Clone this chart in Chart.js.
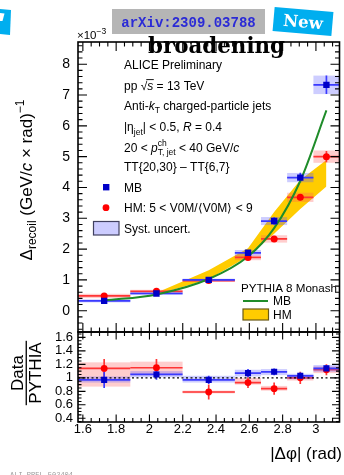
<!DOCTYPE html>
<html><head><meta charset="utf-8">
<script src="https://cdn.jsdelivr.net/npm/chart.js@4.4.1/dist/chart.umd.min.js"></script>
<style>html,body{margin:0;padding:0;background:#fff;overflow:hidden}canvas{display:block}</style>
</head><body>
<canvas id="c" width="344" height="475" style="width:344px;height:475px"></canvas>
<script>
// ---------- data ----------
const binEdges   = [1.571, 1.885, 2.199, 2.513, 2.670, 2.827, 2.985, 3.142];
const binCenters = [1.728, 2.042, 2.356, 2.592, 2.749, 2.906, 3.063];

const mbValues = [0.32, 0.56, 1.00, 1.88, 2.91, 4.32, 7.33];
const mbStat   = [0.05, 0.05, 0.05, 0.08, 0.12, 0.16, 0.30];
const mbSyst   = [0.05, 0.05, 0.04, 0.09, 0.13, 0.15, 0.30];

const hmValues = [0.48, 0.63, 0.98, 1.73, 2.33, 3.68, 5.00];
const hmStat   = [0.05, 0.05, 0.06, 0.07, 0.08, 0.10, 0.18];
const hmSyst   = [0.07, 0.05, 0.04, 0.09, 0.12, 0.15, 0.20];

const pythiaMb      = [0.33, 0.53, 1.03, 1.76, 2.68, 4.21, 6.50];
const pythiaHmX     = [2.042, 2.356, 2.592, 2.749, 2.906, 3.063];
const pythiaHmLower = [0.53, 1.02, 1.76, 2.50, 3.30, 4.03];
const pythiaHmUpper = [0.58, 1.31, 2.03, 3.20, 4.24, 4.89];

const ratioMb       = [0.97, 1.05, 0.97, 1.07, 1.09, 1.03, 1.14];
const ratioMbStat   = [0.12, 0.08, 0.06, 0.06, 0.05, 0.05, 0.05];
const ratioMbBoxLo  = [0.93, 1.01, 0.93, 1.02, 1.04, 0.98, 1.09];
const ratioMbBoxHi  = [1.02, 1.10, 1.03, 1.12, 1.13, 1.06, 1.19];
const ratioHm       = [1.14, 1.15, 0.79, 0.93, 0.84, 1.00, 1.12];
const ratioHmStat   = [0.14, 0.13, 0.11, 0.08, 0.09, 0.09, 0.08];
const ratioHmBoxLo  = [0.87, 1.04, 0.77, 0.90, 0.81, 0.96, 1.07];
const ratioHmBoxHi  = [1.23, 1.24, 0.81, 1.00, 0.88, 1.04, 1.17];

const xTicks      = [1.6, 1.8, 2.0, 2.2, 2.4, 2.6, 2.8, 3.0];
const yMainTicks  = [0, 1, 2, 3, 4, 5, 6, 7, 8];
const yRatioTicks = [0.4, 0.6, 0.8, 1.0, 1.2, 1.4, 1.6];

// ---------- styling ----------
const FONT = '"Liberation Sans", Arial, Helvetica, sans-serif';
const SERIF = '"DejaVu Serif", "Liberation Serif", serif';
const MONO = '"Liberation Mono", "DejaVu Sans Mono", monospace';
Chart.defaults.font.family = FONT;
const MB_MARK = '#0000c8', MB_LINE = '#3a3aff', MB_BOX = 'rgba(90,90,255,0.30)';
const HM_MARK = '#ff0000', HM_LINE = '#ff3535', HM_BOX = 'rgba(255,90,90,0.30)';
const GREEN = '#1f8c2a', YELLOW = '#ffcc00';

const fmt = v => String(parseFloat(Number(v).toFixed(2)));
const pts = (xs, ys) => xs.map((x, i) => ({x, y: ys[i]}));

function setFont(ctx, size, o) {
  o = o || {};
  ctx.font = (o.it ? 'italic ' : '') + (o.b ? 'bold ' : '') + size + 'px ' + (o.fam || FONT);
}
function rich(ctx, x, y, segs, size, measureOnly) {
  let cx = x;
  for (const s of segs) {
    const sz = s.size || size;
    setFont(ctx, sz, s);
    const w = ctx.measureText(s.t).width;
    if (!measureOnly) {
      ctx.fillText(s.t, cx, y + (s.dy || 0));
      if (s.over) ctx.fillRect(cx - 1, y + (s.dy || 0) - sz * 0.86, w + 1.5, 0.9);
    }
    if (s.adv !== false) cx += w;
  }
  return cx - x;
}

// ---------- error bars / boxes ----------
function drawSeriesErrors(ctx, xs, ys, vals, stat, lo, hi, lineCol, boxCol) {
  const area = ctx.canvas; // unused
  for (let i = 0; i < vals.length; i++) {
    const x0 = xs.getPixelForValue(binEdges[i]);
    const x1 = xs.getPixelForValue(binEdges[i + 1]);
    const yb0 = ys.getPixelForValue(hi[i]);
    const yb1 = ys.getPixelForValue(lo[i]);
    ctx.fillStyle = boxCol;
    ctx.fillRect(x0, yb0, x1 - x0, Math.max(1.5, yb1 - yb0));
  }
  ctx.strokeStyle = lineCol;
  ctx.lineWidth = 1.7;
  for (let i = 0; i < vals.length; i++) {
    const x0 = xs.getPixelForValue(binEdges[i]);
    const x1 = xs.getPixelForValue(binEdges[i + 1]);
    const xc = xs.getPixelForValue(binCenters[i]);
    const yv = ys.getPixelForValue(vals[i]);
    ctx.beginPath();
    ctx.moveTo(x0, yv); ctx.lineTo(x1, yv);
    ctx.moveTo(xc, ys.getPixelForValue(vals[i] + stat[i]));
    ctx.lineTo(xc, ys.getPixelForValue(vals[i] - stat[i]));
    ctx.stroke();
  }
}

const errorPlugin = {
  id: 'errors',
  beforeDatasetDraw(chart, args) {
    if (args.index !== 2) return;
    const ctx = chart.ctx, xs = chart.scales.x, y = chart.scales.y, yr = chart.scales.yr;
    ctx.save();
    // main panel
    ctx.beginPath();
    ctx.rect(xs.left, y.top, xs.right - xs.left + 3, y.bottom - y.top);
    ctx.clip();
    drawSeriesErrors(ctx, xs, y, hmValues, hmStat,
      hmValues.map((v, i) => v - hmSyst[i]), hmValues.map((v, i) => v + hmSyst[i]), HM_LINE, HM_BOX);
    drawSeriesErrors(ctx, xs, y, mbValues, mbStat,
      mbValues.map((v, i) => v - mbSyst[i]), mbValues.map((v, i) => v + mbSyst[i]), MB_LINE, MB_BOX);
    ctx.restore();
    // ratio panel
    ctx.save();
    ctx.beginPath();
    ctx.rect(xs.left, yr.top, xs.right - xs.left + 3, yr.bottom - yr.top);
    ctx.clip();
    drawSeriesErrors(ctx, xs, yr, ratioHm, ratioHmStat, ratioHmBoxLo, ratioHmBoxHi, HM_LINE, HM_BOX);
    drawSeriesErrors(ctx, xs, yr, ratioMb, ratioMbStat, ratioMbBoxLo, ratioMbBoxHi, MB_LINE, MB_BOX);
    // dotted unity line
    ctx.strokeStyle = '#000';
    ctx.lineWidth = 1.3;
    ctx.setLineDash([2, 2.5]);
    const y1 = yr.getPixelForValue(1);
    ctx.beginPath(); ctx.moveTo(xs.left, y1); ctx.lineTo(xs.right, y1); ctx.stroke();
    ctx.restore();
  }
};

// ---------- frames, ticks, annotations ----------
function tickSet(ctx, scale, horizontal, fixed, dir, majors, minorStep, minorFrom, minorTo, lenMaj, lenMin) {
  ctx.beginPath();
  const n0 = Math.round(minorFrom / minorStep), n1 = Math.round(minorTo / minorStep);
  for (let k = n0; k <= n1; k++) {
    const v = k * minorStep;
    const isMaj = majors.some(m => Math.abs(m - v) < 1e-6);
    const len = isMaj ? lenMaj : lenMin;
    const p = scale.getPixelForValue(v);
    if (horizontal) { ctx.moveTo(p, fixed); ctx.lineTo(p, fixed + dir * len); }
    else { ctx.moveTo(fixed, p); ctx.lineTo(fixed + dir * len, p); }
  }
  ctx.stroke();
}

const decorPlugin = {
  id: 'decor',
  afterDraw(chart) {
    const ctx = chart.ctx, xs = chart.scales.x, y = chart.scales.y, yr = chart.scales.yr;
    const L = xs.left, R = xs.right;
    ctx.save();
    ctx.strokeStyle = '#000';
    ctx.lineWidth = 1.1;
    // main panel ticks
    tickSet(ctx, y, false, L, 1, yMainTicks, 0.2, -0.6, 8.6, 9, 4.5);
    tickSet(ctx, y, false, R, -1, yMainTicks, 0.2, -0.6, 8.6, 9, 4.5);
    tickSet(ctx, xs, true, y.top, 1, xTicks, 0.05, 1.6, 3.1, 9, 4.5);
    tickSet(ctx, xs, true, y.bottom, -1, xTicks, 0.05, 1.6, 3.1, 9, 4.5);
    // ratio panel ticks
    tickSet(ctx, yr, false, L, 1, yRatioTicks, 0.05, 0.35, 1.65, 7.5, 3.5);
    tickSet(ctx, yr, false, R, -1, yRatioTicks, 0.05, 0.35, 1.65, 7.5, 3.5);
    tickSet(ctx, xs, true, yr.top, 1, xTicks, 0.05, 1.6, 3.1, 7.5, 4);
    tickSet(ctx, xs, true, yr.bottom, -1, xTicks, 0.05, 1.6, 3.1, 7.5, 4);
    // frames
    ctx.lineWidth = 1.6;
    ctx.strokeRect(L, y.top, R - L, y.bottom - y.top);
    ctx.strokeRect(L, yr.top, R - L, yr.bottom - yr.top);
    ctx.restore();

    ctx.save();
    ctx.fillStyle = '#000';
    ctx.textBaseline = 'alphabetic';
    ctx.textAlign = 'left';

    // top-left badge fragment
    ctx.fillStyle = '#00aeef';
    ctx.beginPath(); ctx.moveTo(0, 9); ctx.lineTo(11, 10); ctx.lineTo(10, 35); ctx.lineTo(0, 34); ctx.closePath(); ctx.fill();
    ctx.fillStyle = '#fff';
    ctx.beginPath(); ctx.moveTo(0, 13); ctx.lineTo(4.5, 13.5); ctx.lineTo(2.5, 21); ctx.lineTo(0, 21); ctx.closePath(); ctx.fill();

    // arXiv box
    ctx.fillStyle = '#b5b5b5';
    ctx.fillRect(112, 9, 153, 25);
    ctx.fillStyle = '#2b2bd6';
    setFont(ctx, 14, {b: true, fam: MONO});
    ctx.textAlign = 'center';
    ctx.fillText('arXiv:2309.03788', 188.5, 26.5);

    // New badge
    ctx.save();
    ctx.translate(303, 21.5);
    ctx.rotate(5 * Math.PI / 180);
    ctx.fillStyle = '#00aeef';
    ctx.fillRect(-29.5, -12, 59, 24);
    ctx.fillStyle = '#fff';
    setFont(ctx, 16.5, {b: true, fam: SERIF});
    ctx.fillText('New', 0, 6);
    ctx.restore();

    // x10^-3
    ctx.fillStyle = '#000';
    ctx.textAlign = 'left';
    rich(ctx, 77, 38.5, [{t: '\u00d710'}, {t: '\u22123', size: 8.5, dy: -5}], 11.5);

    // broadening (fit width)
    setFont(ctx, 21.5, {b: true, fam: SERIF});
    const bw = ctx.measureText('broadening').width;
    ctx.save();
    ctx.translate(216.5, 53);
    ctx.scale(137 / bw, 1);
    ctx.textAlign = 'center';
    ctx.fillText('broadening', 0, 0);
    ctx.restore();

    // legend texts
    ctx.textAlign = 'left';
    const LX = 124, FS = 12;
    rich(ctx, LX, 68.5, [{t: 'ALICE Preliminary'}], FS);
    rich(ctx, LX, 89.5, [{t: 'pp '}, {t: '\u221a'}, {t: 's', it: true, over: true}, {t: ' = 13 TeV'}], FS);
    rich(ctx, LX, 110.3, [{t: 'Anti-'}, {t: 'k', it: true}, {t: 'T', size: 8.5, dy: 3}, {t: ' charged-particle jets'}], FS);
    rich(ctx, LX, 131, [{t: '|\u03b7'}, {t: 'jet', size: 8.5, dy: 3.5}, {t: '| < 0.5, '}, {t: 'R', it: true}, {t: ' = 0.4'}], FS);
    rich(ctx, LX, 151.5, [{t: '20 < '}, {t: 'p', it: true}, {t: 'ch', size: 8.5, dy: -5.5, adv: false}, {t: 'T, jet', size: 8.5, dy: 3.5}, {t: ' < 40 GeV/'}, {t: 'c', it: true}], FS);
    rich(ctx, LX, 170.7, [{t: 'TT{20,30} \u2013 TT{6,7}'}], FS);
    rich(ctx, LX, 191.5, [{t: 'MB'}], FS);
    rich(ctx, LX, 212, [{t: 'HM: 5 < V0M/\u27e8V0M\u27e9 < 9'}], FS);
    rich(ctx, LX, 232.6, [{t: 'Syst. uncert.'}], FS);
    // legend markers
    ctx.fillStyle = MB_MARK;
    ctx.fillRect(103, 184, 6.4, 6.4);
    ctx.fillStyle = HM_MARK;
    ctx.beginPath(); ctx.arc(106, 207.7, 3.4, 0, Math.PI * 2); ctx.fill();
    ctx.fillStyle = '#ccccff';
    ctx.fillRect(93.5, 221.5, 25.5, 13.5);
    ctx.strokeStyle = '#404060'; ctx.lineWidth = 1.2;
    ctx.strokeRect(93.5, 221.5, 25.5, 13.5);

    // PYTHIA legend
    ctx.fillStyle = '#000';
    rich(ctx, 241, 292.3, [{t: 'PYTHIA 8 Monash'}], 11.6);
    ctx.strokeStyle = GREEN; ctx.lineWidth = 2;
    ctx.beginPath(); ctx.moveTo(243, 301); ctx.lineTo(268, 301); ctx.stroke();
    rich(ctx, 273, 305.3, [{t: 'MB'}], FS);
    ctx.fillStyle = YELLOW;
    ctx.fillRect(243, 309, 25.5, 11);
    ctx.strokeStyle = '#6b5a14'; ctx.lineWidth = 1.2;
    ctx.strokeRect(243, 309, 25.5, 11);
    ctx.fillStyle = '#000';
    rich(ctx, 273, 319.3, [{t: 'HM'}], FS);

    // main y title (rotated)
    const ySegs = [{t: '\u0394'}, {t: 'recoil', size: 12, dy: 4}, {t: ' (GeV/'}, {t: 'c', it: true}, {t: ' \u00d7 rad)'}, {t: '\u22121', size: 12, dy: -8}];
    const yw = rich(ctx, 0, 0, ySegs, 17, true);
    ctx.save();
    ctx.translate(31.5, 180);
    ctx.rotate(-Math.PI / 2);
    rich(ctx, -yw / 2, 0, ySegs, 17);
    ctx.restore();

    // ratio y title (fraction, rotated)
    ctx.save();
    ctx.translate(0, 373);
    ctx.rotate(-Math.PI / 2);
    ctx.textAlign = 'center';
    setFont(ctx, 17);
    ctx.fillText('Data', 0, 23);
    const pw = ctx.measureText('PYTHIA').width;
    ctx.fillText('PYTHIA', 0, 41);
    ctx.fillRect(-pw / 2 - 1.5, 25.6, pw + 3, 1.3);
    ctx.restore();

    // x title
    ctx.textAlign = 'right';
    setFont(ctx, 17);
    ctx.fillText('|\u0394\u03c6| (rad)', 342, 459);

    // footer
    ctx.textAlign = 'left';
    ctx.fillStyle = '#9a9a9a';
    setFont(ctx, 7, {fam: MONO});
    ctx.fillText('ALI-PREL-502404', 10, 476.5);
    ctx.restore();
  }
};

const chart = new Chart(document.getElementById('c'), {
  type: 'scatter',
  data: {
    datasets: [
      {label: 'PYTHIA HM upper', type: 'line', data: pts(pythiaHmX, pythiaHmUpper), yAxisID: 'y',
       borderWidth: 0, pointRadius: 0, fill: '+1', backgroundColor: YELLOW, tension: 0, order: 10},
      {label: 'PYTHIA HM lower', type: 'line', data: pts(pythiaHmX, pythiaHmLower), yAxisID: 'y',
       borderWidth: 0, pointRadius: 0, fill: false, tension: 0, order: 9},
      {label: 'PYTHIA MB', type: 'line', data: pts(binCenters, pythiaMb), yAxisID: 'y',
       borderColor: GREEN, borderWidth: 2, pointRadius: 0, fill: false, cubicInterpolationMode: 'monotone', order: 5},
      {label: 'HM', data: pts(binCenters, hmValues), yAxisID: 'y', pointStyle: 'circle',
       pointRadius: 3.5, backgroundColor: HM_MARK, borderWidth: 0, order: 4},
      {label: 'MB', data: pts(binCenters, mbValues), yAxisID: 'y', pointStyle: 'rect',
       pointRadius: 4.5, backgroundColor: MB_MARK, borderWidth: 0, order: 3},
      {label: 'HM ratio', data: pts(binCenters, ratioHm), yAxisID: 'yr', pointStyle: 'circle',
       pointRadius: 3.4, backgroundColor: HM_MARK, borderWidth: 0, order: 2},
      {label: 'MB ratio', data: pts(binCenters, ratioMb), yAxisID: 'yr', pointStyle: 'rect',
       pointRadius: 4.3, backgroundColor: MB_MARK, borderWidth: 0, order: 1}
    ]
  },
  options: {
    responsive: false,
    animation: false,
    devicePixelRatio: 1,
    events: [],
    layout: {padding: {left: 0, right: 4, top: 42, bottom: 0}},
    plugins: {legend: {display: false}, tooltip: {enabled: false}},
    scales: {
      x: {
        type: 'linear', position: 'bottom', min: 1.5708, max: 3.1416,
        grid: {display: false, drawTicks: false}, border: {display: false},
        ticks: {font: {size: 13, family: FONT}, color: '#000', padding: 0, maxRotation: 0, autoSkip: false,
                callback: v => fmt(v)},
        afterBuildTicks: s => { s.ticks = xTicks.map(v => ({value: v})); },
        afterFit: s => { s.height = 53; }
      },
      y: {
        type: 'linear', position: 'left', stack: 'panels', stackWeight: 290, weight: 2,
        min: -0.69, max: 8.72,
        grid: {display: false, drawTicks: false}, border: {display: false},
        ticks: {font: {size: 14, family: FONT}, color: '#000', padding: 8, autoSkip: false, callback: v => fmt(v)},
        afterBuildTicks: s => { s.ticks = yMainTicks.map(v => ({value: v})); },
        afterFit: s => { s.width = 78; }
      },
      yr: {
        type: 'linear', position: 'left', stack: 'panels', stackWeight: 90, weight: 1,
        min: 0.345, max: 1.68,
        grid: {display: false, drawTicks: false}, border: {display: false},
        ticks: {font: {size: 13, family: FONT}, color: '#000', padding: 5, autoSkip: false, callback: v => fmt(v)},
        afterBuildTicks: s => { s.ticks = yRatioTicks.map(v => ({value: v})); },
        afterFit: s => { s.width = 78; }
      }
    }
  },
  plugins: [errorPlugin, decorPlugin]
});
</script>
</body></html>
